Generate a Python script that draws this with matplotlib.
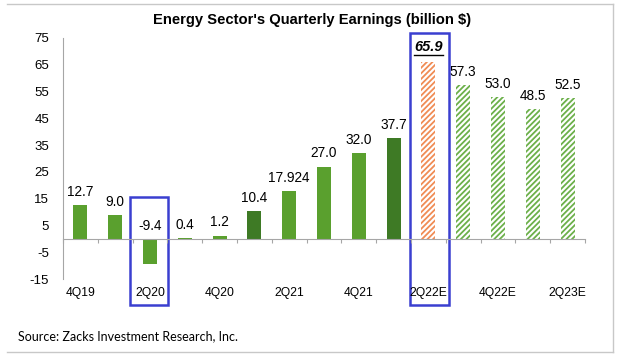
import matplotlib.pyplot as plt
from matplotlib.patches import Rectangle
from matplotlib.lines import Line2D

plt.rcParams['font.family'] = ['Liberation Sans', 'DejaVu Sans']
plt.rcParams['hatch.linewidth'] = 1.3
plt.rcParams['axes.unicode_minus'] = False

quarters = ['4Q19', '1Q20', '2Q20', '3Q20', '4Q20', '1Q21', '2Q21', '3Q21',
            '4Q21', '1Q22', '2Q22E', '3Q22E', '4Q22E', '1Q23E', '2Q23E']
earnings = [12.7, 9.0, -9.4, 0.4, 1.2, 10.4, 17.924, 27.0,
            32.0, 37.7, 65.9, 57.3, 53.0, 48.5, 52.5]
labels = ['12.7', '9.0', '-9.4', '0.4', '1.2', '10.4', '17.924', '27.0',
          '32.0', '37.7', '65.9', '57.3', '53.0', '48.5', '52.5']
shown_ticks = ['4Q19', '2Q20', '4Q20', '2Q21', '4Q21', '2Q22E', '4Q22E', '2Q23E']

green = '#5aa02e'
dark_green = '#3e7a25'
orange = '#f08c55'
light_green = '#6cb04a'

fig = plt.figure(figsize=(6.2, 3.57), dpi=100)
ax = fig.add_axes([63/620, 1-279/357, 522/620, 241/357])

for i, v in enumerate(earnings):
    q = quarters[i]
    if q.endswith('E'):
        col = orange if q == '2Q22E' else light_green
        ax.bar(i, v, width=0.4, facecolor='white', edgecolor=col,
               hatch='//////', linewidth=0)
    else:
        col = dark_green if q in ('1Q21', '1Q22') else green
        ax.bar(i, v, width=0.4, color=col, linewidth=0)

ax.set_xlim(-0.5, len(quarters) - 0.5)
ax.set_ylim(-15, 75)
ax.set_yticks(range(-15, 76, 10))
ax.tick_params(axis='y', length=0, labelsize=9.5, pad=10)

ax.spines['top'].set_visible(False)
ax.spines['right'].set_visible(False)
ax.spines['left'].set_color('#a6a6a6')
ax.spines['bottom'].set_color('#a6a6a6')
ax.spines['bottom'].set_position(('data', 0))
ax.set_xticks([i - 0.5 for i in range(len(quarters) + 1)])
ax.set_xticklabels([])
ax.tick_params(axis='x', length=3, color='#a6a6a6', direction='out')

for i, q in enumerate(quarters):
    if q in shown_ticks:
        ax.text(i, -0.058, q, transform=ax.get_xaxis_transform(),
                ha='center', va='center', fontsize=8.7)

for i, v in enumerate(earnings):
    if quarters[i] == '2Q22E':
        t65 = ax.annotate(labels[i], (i, max(v, 0)), xytext=(0, 11),
                          textcoords='offset points', ha='center', va='center',
                          fontsize=10.5, fontweight='bold', fontstyle='italic')
    else:
        ax.annotate(labels[i], (i, max(v, 0)), xytext=(0, 9.5),
                    textcoords='offset points', ha='center', va='center',
                    fontsize=9.8)

# blue highlight boxes
for x0, x1, y0, y1 in [(1.43, 2.52, -24.6, 15.7), (9.47, 10.59, -24.6, 76.9)]:
    ax.add_patch(Rectangle((x0, y0), x1 - x0, y1 - y0, fill=False,
                           edgecolor='#3a3fd0', linewidth=1.8, clip_on=False))

fig.text(312/620, 1-20/357, "Energy Sector's Quarterly Earnings (billion $)",
         ha='center', va='center', fontsize=10.6, fontweight='bold')
fig.text(18/620, 1-336/357, 'Source: Zacks Investment Research, Inc.',
         ha='left', va='center', fontsize=9, family=['Lato', 'DejaVu Sans'])

# frame
W, H = 620, 357
for xs, ys in [([7, 613], [4, 4]), ([613, 613], [4, 352]), ([7, 613], [352, 352])]:
    fig.add_artist(Line2D([a / W for a in xs], [1 - b / H for b in ys],
                          color='#c8c8c8', linewidth=1))

# underline for 65.9
fig.canvas.draw()
bb = t65.get_window_extent()
fig.add_artist(Line2D([bb.x0 / W, bb.x1 / W], [(bb.y0 - 0.5) / H] * 2,
                      color='black', linewidth=1))

fig.savefig('out.png', dpi=100)
